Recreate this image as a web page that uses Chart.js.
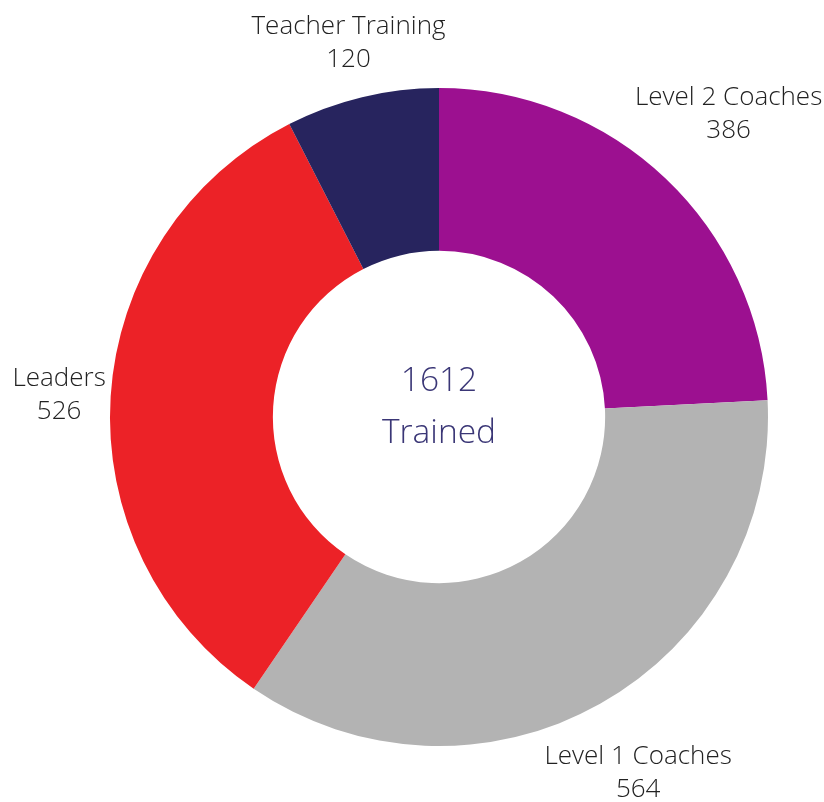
<!DOCTYPE html>
<html>
<head>
<meta charset="utf-8">
<script src="https://cdn.jsdelivr.net/npm/chart.js@4"></script>
<style>
  html, body { margin: 0; padding: 0; background: #fff; }
  #wrap { width: 824px; height: 802px; }
</style>
</head>
<body>
<div id="wrap"><canvas id="trainChart" width="824" height="802"></canvas></div>
<script>
// Training breakdown
const categories = ['Level 2 Coaches', 'Level 1 Coaches', 'Leaders', 'Teacher Training'];
const trainedCounts = [386, 564, 526, 120];
const sliceColors = ['#9c1090', '#b3b3b3', '#ec2227', '#27245e'];
const centerLines = ['1612', 'Trained'];

const FONT = '"Open Sans", "Noto Sans", sans-serif';

// labels outside each slice, pushed out by the text box size
const outsideLabels = {
    id: 'outsideLabels',
    afterDatasetsDraw(chart) {
        const ctx = chart.ctx;
        const meta = chart.getDatasetMeta(0);
        const lineH = 33;
        ctx.save();
        ctx.font = '300 26px ' + FONT;
        ctx.fillStyle = '#222222';
        ctx.textAlign = 'center';
        ctx.textBaseline = 'middle';
        meta.data.forEach((arc, i) => {
            const lines = [categories[i], String(trainedCounts[i])];
            const w = Math.max(...lines.map(t => ctx.measureText(t).width));
            const h = lineH * lines.length;
            const mid = (arc.startAngle + arc.endAngle) / 2;
            const c = Math.cos(mid), s = Math.sin(mid);
            const r = arc.outerRadius + 3 + Math.abs(c) * w / 2 + Math.abs(s) * h / 2;
            const x = arc.x + c * r;
            const y = arc.y + s * r + 2;
            lines.forEach((t, k) => {
                ctx.fillText(t, x, y + (k - (lines.length - 1) / 2) * lineH);
            });
        });
        ctx.restore();
    }
};

const centerText = {
    id: 'centerText',
    afterDatasetsDraw(chart) {
        const ctx = chart.ctx;
        const arc = chart.getDatasetMeta(0).data[0];
        ctx.save();
        ctx.font = '300 33.5px ' + FONT;
        ctx.fillStyle = '#3a3676';
        ctx.textAlign = 'center';
        ctx.textBaseline = 'middle';
        ctx.fillText(centerLines[0], arc.x, arc.y - 36);
        ctx.fillText(centerLines[1], arc.x, arc.y + 16);
        ctx.restore();
    }
};

new Chart(document.getElementById('trainChart'), {
    type: 'doughnut',
    data: {
        labels: categories,
        datasets: [{
            data: trainedCounts,
            backgroundColor: sliceColors,
            borderWidth: 0,
        }]
    },
    options: {
        responsive: false,
        animation: false,
        cutout: '50.5%',
        layout: { padding: { top: 88, bottom: 56, left: 110, right: 56 } },
        plugins: { legend: { display: false }, tooltip: { enabled: false } }
    },
    plugins: [outsideLabels, centerText]
});
</script>
</body>
</html>
